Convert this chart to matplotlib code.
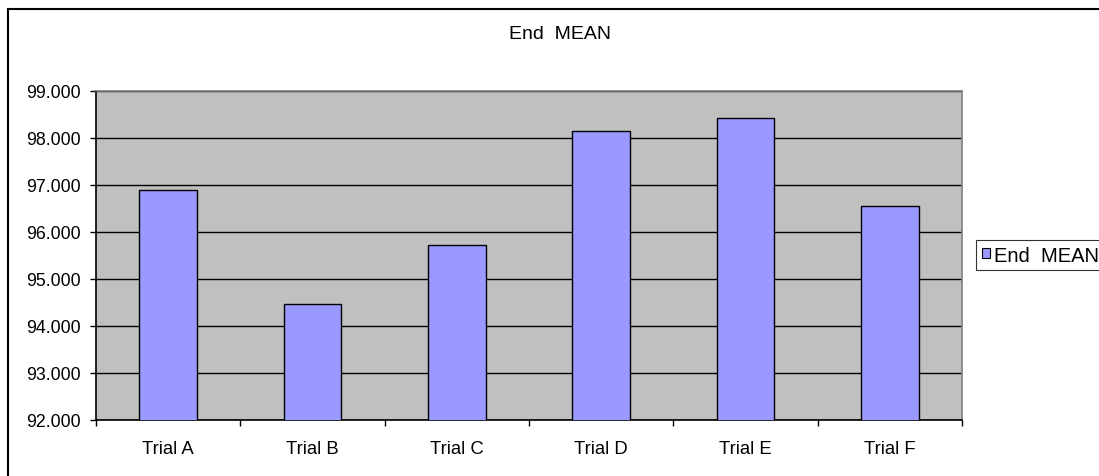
import matplotlib
matplotlib.use("Agg")
import matplotlib.pyplot as plt
from matplotlib.patches import Rectangle, Patch
from matplotlib.ticker import FormatStrFormatter, FixedLocator, MultipleLocator

categories = ["Trial A", "Trial B", "Trial C", "Trial D", "Trial E", "Trial F"]
values = [96.90, 94.47, 95.72, 98.14, 98.42, 96.56]
series_name = "End  MEAN"
title = "End  MEAN"

plt.rcParams['font.family'] = ['Liberation Sans', 'DejaVu Sans']

W, H = 1099, 477
fig = plt.figure(figsize=(W / 100, H / 100), dpi=100)
fig.patch.set_facecolor("white")

# outer chart-area border (extends beyond right/bottom edges)
fig.patches.append(Rectangle((8 / W, -0.2), 1.5, 1 - 9.5 / H + 0.2,
                             transform=fig.transFigure, fill=False,
                             edgecolor="black", linewidth=1.5, zorder=0))

ax = fig.add_axes([96 / W, 1 - 421 / H, (962 - 96) / W, (421 - 92) / H])
ax.set_facecolor("#C0C0C0")

x = list(range(len(categories)))
ax.bar(x, values, width=0.4, color="#9999FF", edgecolor="black",
       linewidth=1.0, zorder=3, bottom=0)
ax.set_xlim(-0.5, len(categories) - 0.5)
ax.set_ylim(92, 99)

ax.yaxis.set_major_locator(MultipleLocator(1))
ax.yaxis.set_major_formatter(FormatStrFormatter('%.3f'))
ax.grid(axis='y', color='black', linewidth=1.0, zorder=1)
ax.set_axisbelow(True)

ax.set_xticks(x)
ax.set_xticklabels(categories)
ax.xaxis.set_minor_locator(FixedLocator([i - 0.5 for i in range(len(categories) + 1)]))
ax.tick_params(axis='x', which='major', length=0, pad=14.5, labelsize=13.3)
ax.tick_params(axis='x', which='minor', length=4, width=1, color='black')
ax.tick_params(axis='y', length=4.5, width=1, color='black', pad=6.5, labelsize=12.8)

for s in ['top', 'right']:
    ax.spines[s].set_color('#808080')
    ax.spines[s].set_linewidth(1.2)
for s in ['left', 'bottom']:
    ax.spines[s].set_color('black')
    ax.spines[s].set_linewidth(1.2)

fig.text(560 / W, 1 - 34.5 / H, title, ha='center', va='center', fontsize=14)

handle = Patch(facecolor="#9999FF", edgecolor="black", linewidth=0.8)
leg = fig.legend([handle], [series_name], loc='center left',
                 bbox_to_anchor=(976 / W, 1 - 256 / H), fontsize=14.5,
                 frameon=True, fancybox=False, handlelength=0.4,
                 handleheight=0.4, handletextpad=0.2, borderpad=0.28,
                 borderaxespad=0)
leg.get_frame().set_edgecolor('black')
leg.get_frame().set_linewidth(0.8)

fig.savefig("out.png", dpi=100)
